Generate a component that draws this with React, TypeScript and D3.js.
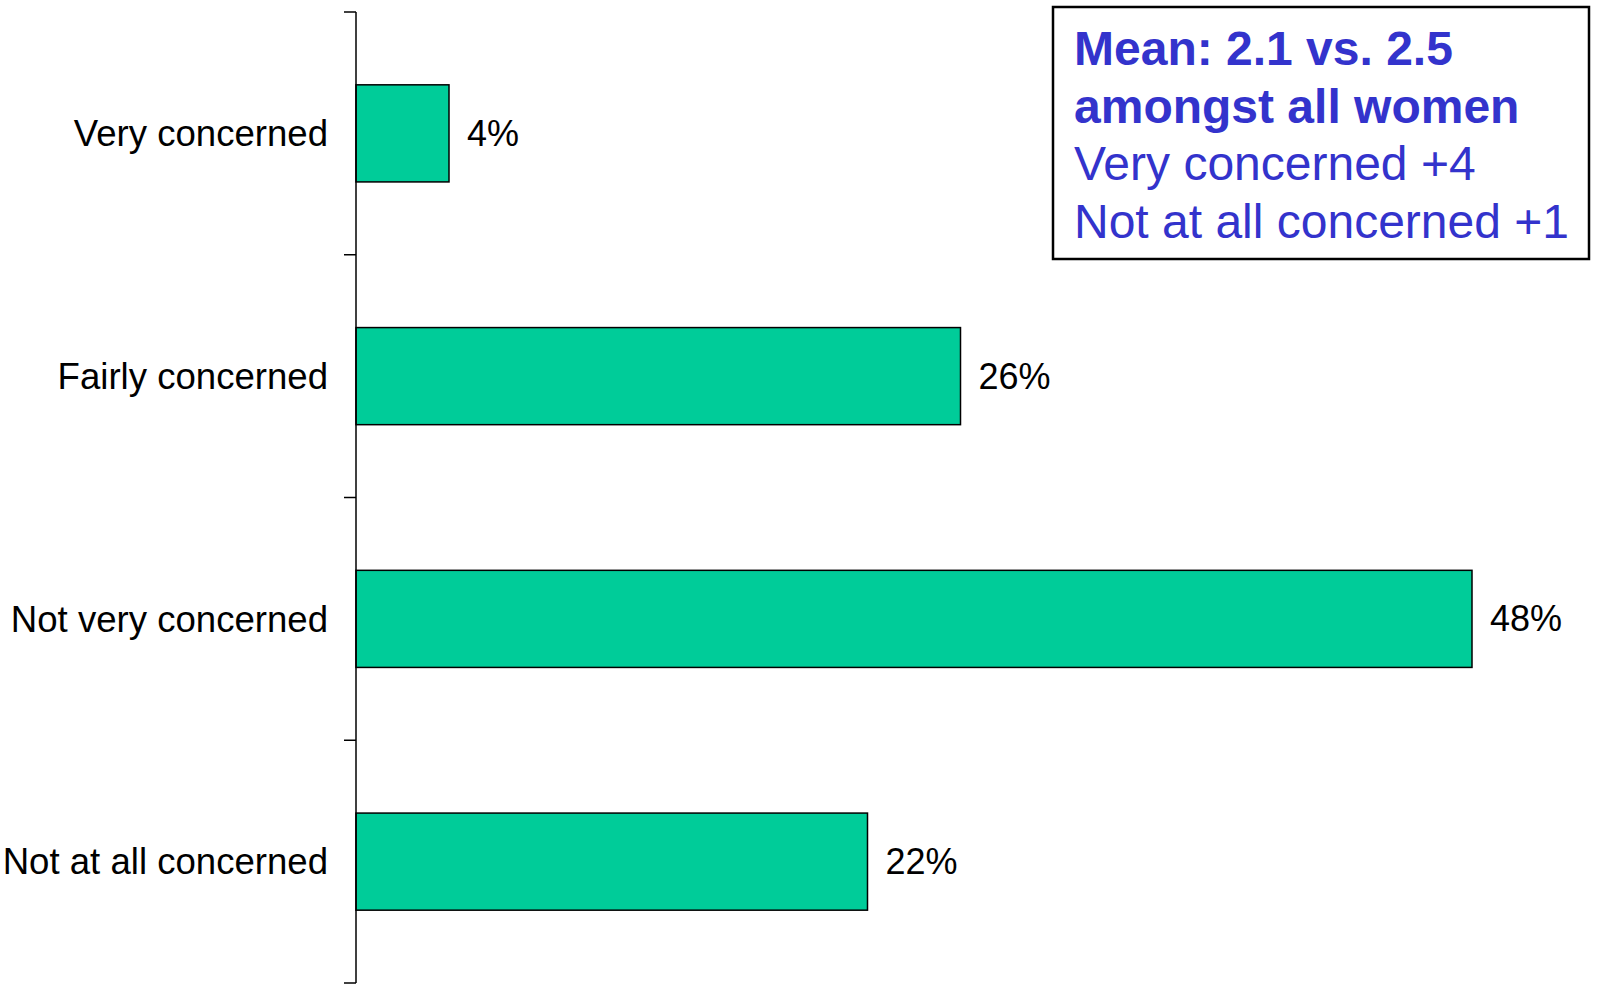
import React from "react";
import * as d3 from "d3";

const categories = ["Very concerned", "Fairly concerned", "Not very concerned", "Not at all concerned"];
const values = [4, 26, 48, 22];
const boxBold = ["Mean: 2.1 vs. 2.5", "amongst all women"];
const boxNormal = ["Very concerned +4", "Not at all concerned +1"];

export default function App() {
  const W = 1598, H = 984;
  const x0 = 356;
  const x = d3.scaleLinear().domain([0, 50]).range([x0, x0 + 1162.5]);
  const y = d3.scaleBand<string>().domain(categories).range([12, 983]).paddingInner(0.6).paddingOuter(0.3);
  const step = y.step();
  const boundaries = d3.range(categories.length + 1).map((i) => 12 + i * step);
  const font = "Arial, 'Liberation Sans', sans-serif";
  const blue = "#3333CC";
  const lines = [...boxBold.map((t) => ({ t, bold: true })), ...boxNormal.map((t) => ({ t, bold: false }))];
  return (
    <svg width={W} height={H} style={{ position: "absolute", left: 0, top: 0 }}>
      <rect width={W} height={H} fill="#fff" />
      {categories.map((c, i) => (
        <g key={c}>
          <rect x={x(0)} y={y(c)} width={x(values[i]) - x(0)} height={y.bandwidth()} fill="#00CC99" stroke="#000" strokeWidth={1.5} />
          <text x={328} y={(y(c) as number) + y.bandwidth() / 2} dy="0.35em" textAnchor="end" fontFamily={font} fontSize={36.6} fill="#000">{c}</text>
          <text x={x(values[i]) + 18} y={(y(c) as number) + y.bandwidth() / 2} dy="0.35em" fontFamily={font} fontSize={36} fill="#000">{values[i]}%</text>
        </g>
      ))}
      <line x1={x0} x2={x0} y1={12} y2={983} stroke="#000" strokeWidth={1.5} />
      {boundaries.map((b, i) => (
        <line key={i} x1={344} x2={x0} y1={b} y2={b} stroke="#000" strokeWidth={1.5} />
      ))}
      <rect x={1053} y={7} width={536} height={252} fill="#fff" stroke="#000" strokeWidth={2.5} />
      {lines.map((l, i) => (
        <text key={l.t} x={1074} y={65 + i * 57.7} fontFamily={font} fontSize={48} fontWeight={l.bold ? "bold" : "normal"} fill={blue}>{l.t}</text>
      ))}
    </svg>
  );
}
